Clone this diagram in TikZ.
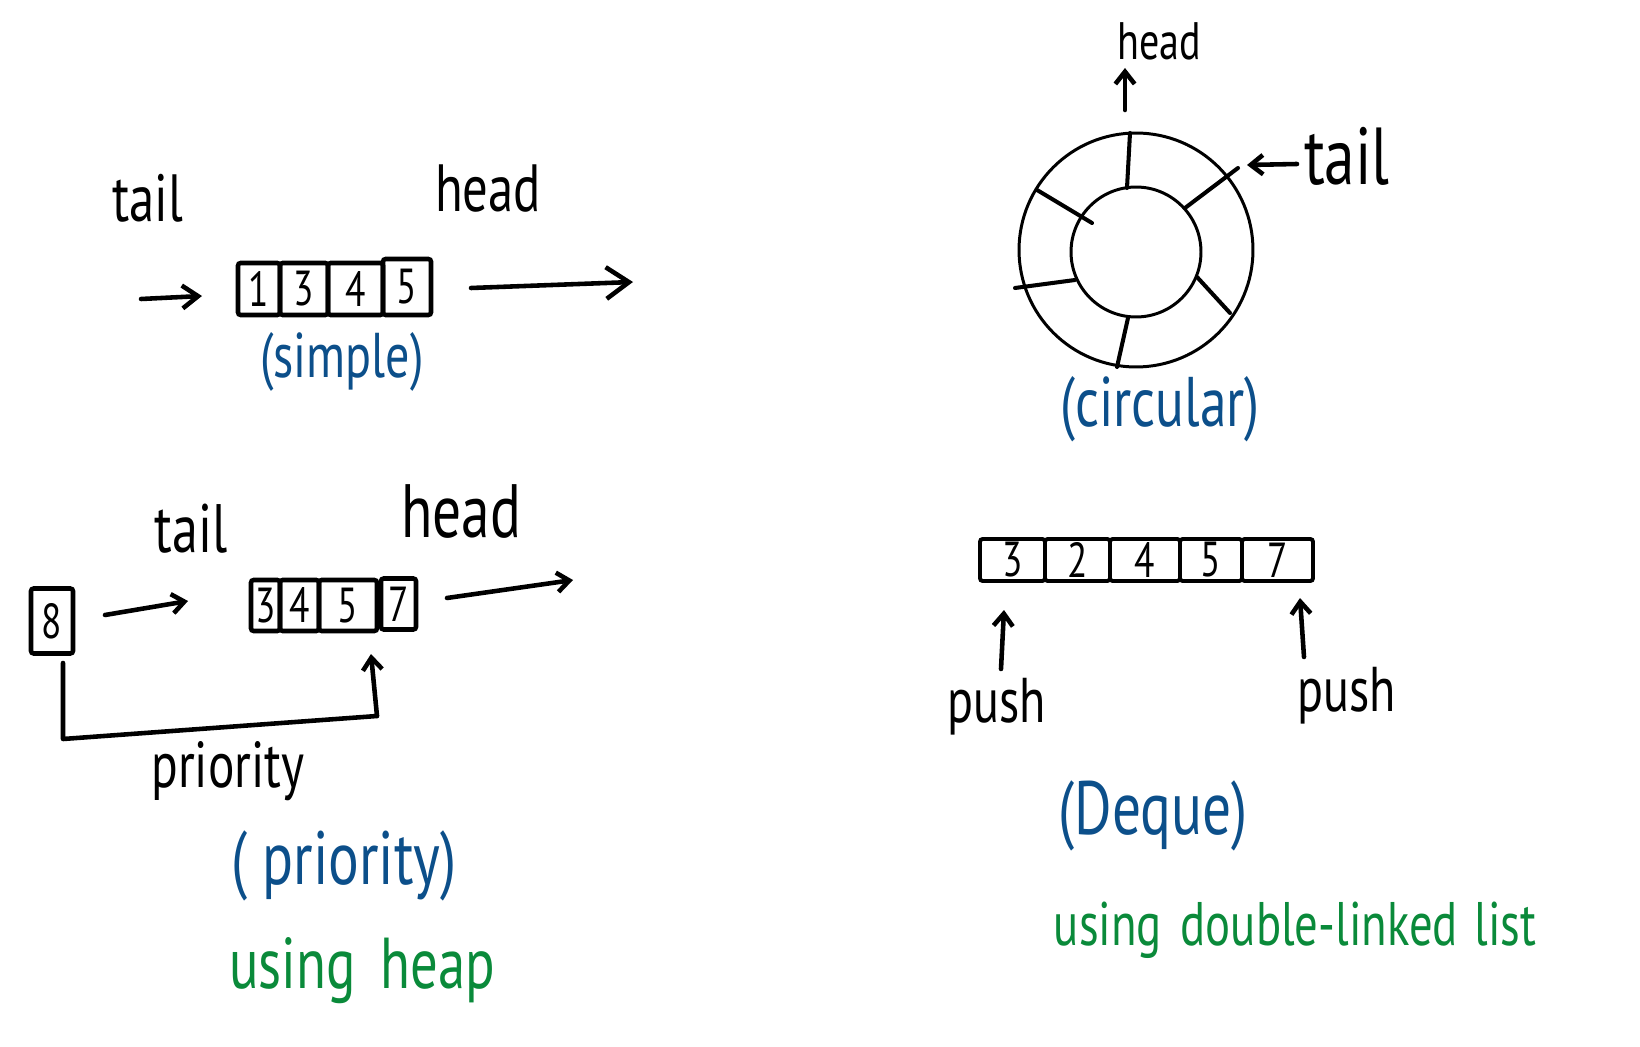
\documentclass[tikz,border=0pt]{standalone}
\usepackage{fontspec}
\setmainfont{PT Sans}
\usepackage{graphicx}
\usetikzlibrary{arrows.meta}
\definecolor{inkblue}{RGB}{12,79,138}
\definecolor{inkgreen}{RGB}{10,138,58}
\newcommand\hwsq[1]{\scalebox{0.76}[1]{#1}}
\begin{document}
\begin{tikzpicture}[x=0.02cm,y=-0.02cm,
  txt/.style={inner sep=0pt, font=\fontsize{#1}{#1}\selectfont},
  blk/.style={txt=#1, text=black},
  blu/.style={txt=#1, text=inkblue},
  grn/.style={txt=#1, text=inkgreen},
  cell/.style={draw, line width=2.6pt, rounded corners=1.5pt, inner sep=0pt, font=\fontsize{28}{28}\selectfont},
  dcell/.style={cell, line width=2.2pt, minimum height=0.84cm},
  bigarr/.style={line width=2.6pt, line cap=round, -{Straight Barb[length=13pt,width=18pt]}},
  midarr/.style={line width=2.6pt, line cap=round, -{Straight Barb[length=9pt,width=13pt]}},
  smallarr/.style={line width=2.6pt, line cap=round, -{Straight Barb[length=7pt,width=11pt]}},
  pen/.style={line width=2.6pt, line cap=round, line join=round},
  ring/.style={draw, circle, line width=1.7pt, inner sep=0pt},
  spoke/.style={line width=2.3pt, line cap=round}
]
\useasboundingbox (0,0) rectangle (1640,1047);

% ---------- simple ----------
\node[blk=38, anchor=base] (stail) at (148,222) {\hwsq{tail}};
\node[blk=38, anchor=base] (shead) at (488,212) {\hwsq{head}};
\node[cell, minimum width=0.84cm, minimum height=1.04cm] (s1) at (259,289) {\hwsq{1}};
\node[cell, minimum width=0.96cm, minimum height=1.04cm] (s2) at (304,289) {\hwsq{3}};
\node[cell, minimum width=1.10cm, minimum height=1.04cm] (s3) at (355.5,289) {\hwsq{4}};
\node[cell, minimum width=0.96cm, minimum height=1.12cm] (s4) at (407,287) {\hwsq{5}};
\coordinate (sinA) at (141,299);
\coordinate (sinB) at (202,296);
\draw[midarr] (sinA) -- (sinB);
\coordinate (soutA) at (471,288);
\coordinate (soutB) at (633,282);
\draw[bigarr] (soutA) -- (soutB);
\node[blu=36] (ssimple) at (342,362) {\hwsq{(simple)}};

% ---------- priority ----------
\node[blk=39, anchor=base] (ptail) at (191,552) {\hwsq{tail}};
\node[blk=43, anchor=base] (phead) at (461,537) {\hwsq{head}};
\node[cell, minimum width=0.84cm, minimum height=1.30cm] (p8) at (52,621) {\hwsq{8}};
\node[cell, minimum width=0.58cm, minimum height=1.02cm] (pa) at (265.5,605.5) {\hwsq{3}};
\node[cell, minimum width=0.78cm, minimum height=1.02cm] (pb) at (299.5,605.5) {\hwsq{4}};
\node[cell, minimum width=1.16cm, minimum height=1.02cm] (pc) at (348,605.5) {\hwsq{5}};
\node[cell, minimum width=0.70cm, minimum height=1.02cm] (pd) at (398.5,604) {\hwsq{7}};
\coordinate (p8a) at (105,615);
\coordinate (p8b) at (188,601);
\draw[smallarr] (p8a) -- (p8b);
\coordinate (poA) at (447,598);
\coordinate (poB) at (573,580);
\draw[smallarr] (poA) -- (poB);
\coordinate (pl1) at (63,663);
\coordinate (pl2) at (63,739);
\coordinate (pl3) at (377,716);
\coordinate (pl4) at (371,654);
\draw[pen] (pl1) -- (pl2) -- (pl3);
\draw[smallarr] (pl3) -- (pl4);
\node[blk=37, anchor=base] (pprio) at (228,787) {\hwsq{priority}};
\node[blu=43] (pprio2) at (344,866) {\hwsq{( priority)}};
\node[grn=41, anchor=base] (pheap) at (362,988) {\hwsq{using\hspace{0.45em}heap}};

% ---------- circular ----------
\node[ring, minimum size=4.68cm] (outer) at (1136,250) {};
\node[ring, minimum size=2.6cm] (inner) at (1136,252) {};
\draw[spoke] (1127,188) -- (1130,133);
\draw[spoke] (1185,208) -- (1238,168);
\draw[spoke] (1197,277) -- (1230,313);
\draw[spoke] (1128,318) -- (1117,367);
\draw[spoke] (1075,280) -- (1015,288);
\draw[spoke] (1092,223) -- (1037,190);
\coordinate (chA) at (1125,110);
\coordinate (chB) at (1125,68);
\draw[smallarr] (chA) -- (chB);
\node[blk=30, anchor=base] (chead) at (1159,60) {\hwsq{head}};
\coordinate (ctA) at (1297,164);
\coordinate (ctB) at (1247,165);
\draw[smallarr] (ctA) -- (ctB);
\node[blk=46, anchor=base] (ctail) at (1347,185) {\hwsq{tail}};
\node[blu=40] (ccirc) at (1160,409) {\hwsq{(circular)}};

% ---------- deque ----------
\node[dcell, minimum width=1.30cm] (d1) at (1012.5,560) {\hwsq{3}};
\node[dcell, minimum width=1.30cm] (d2) at (1077.5,560) {\hwsq{2}};
\node[dcell, minimum width=1.40cm] (d3) at (1145,560) {\hwsq{4}};
\node[dcell, minimum width=1.24cm] (d4) at (1211,560) {\hwsq{5}};
\node[dcell, minimum width=1.42cm] (d5) at (1277.5,560) {\hwsq{7}};
\coordinate (dlA) at (1001,669);
\coordinate (dlB) at (1004,610);
\draw[smallarr] (dlA) -- (dlB);
\coordinate (drA) at (1304,657);
\coordinate (drB) at (1300,598);
\draw[smallarr] (drA) -- (drB);
\node[blk=36, anchor=base] (dpushL) at (997,722) {\hwsq{push}};
\node[blk=36, anchor=base] (dpushR) at (1347,711) {\hwsq{push}};
\node[blu=43] (ddeque) at (1153,816) {\hwsq{(Deque)}};
\node[grn=35, anchor=base] (dlist) at (1295,945) {\hwsq{using\hspace{0.4em}double-linked\hspace{0.35em}list}};
\end{tikzpicture}
\end{document}
